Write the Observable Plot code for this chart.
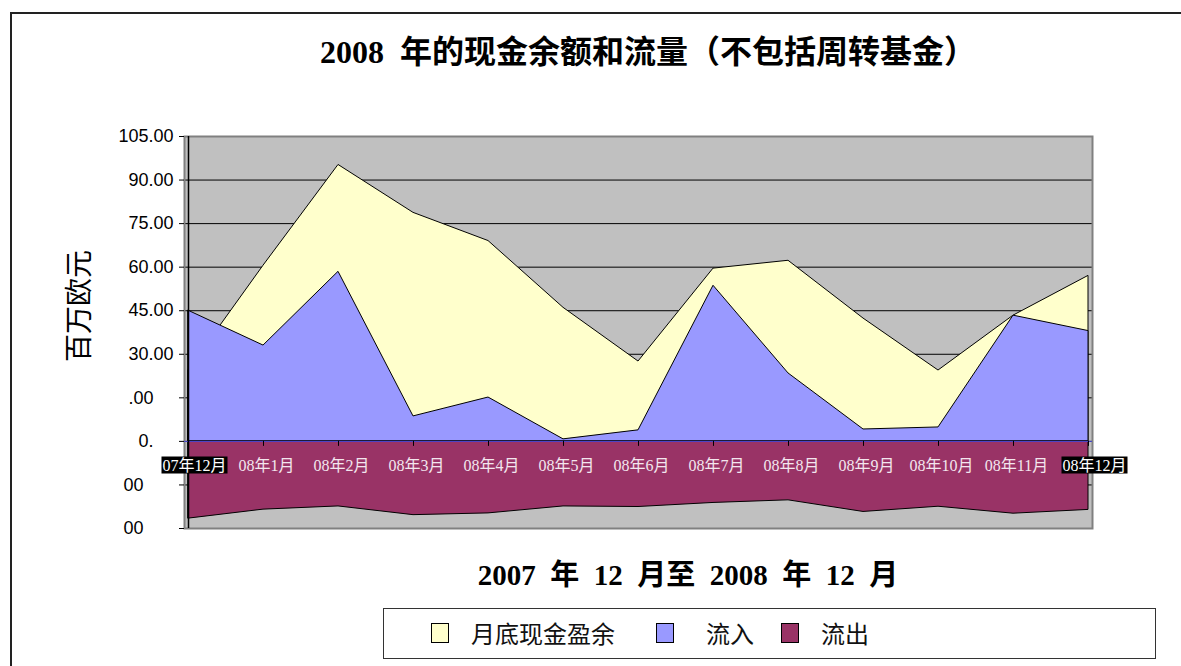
<!DOCTYPE html>
<html>
<head>
<meta charset="utf-8">
<script src="https://cdn.jsdelivr.net/npm/d3@7"></script>
<script src="https://cdn.jsdelivr.net/npm/@observablehq/plot@0.6"></script>
<style>
  html, body { margin: 0; padding: 0; background: #fff; overflow: hidden; }
  #wrap { position: relative; width: 1181px; height: 666px; overflow: hidden; background: #fff; }
  #border { position: absolute; left: 10px; top: 12px; width: 1400px; height: 900px;
            border-left: 2px solid #222; border-top: 2px solid #222; box-sizing: border-box; }
  #chart { position: absolute; left: 0; top: 0; }
  .title { position: absolute; white-space: pre; font-weight: bold; color: #000;
           font-family: "Liberation Serif", "Noto Sans CJK SC", serif; transform: translate(-50%, -50%); }
  #ytitle { position: absolute; left: 80px; top: 306px; white-space: pre; color: #000;
            font-family: "Liberation Serif", "Noto Sans CJK SC", serif; font-size: 28px; line-height: 28px;
            transform: translate(-50%, -50%) rotate(-90deg); }
  #legend { position: absolute; left: 383px; top: 608px; width: 773px; height: 51px;
            border: 1px solid #333; box-sizing: border-box; background: #fff; }
  .sw { position: absolute; top: 14px; width: 18px; height: 20px; border: 1.5px solid #000; box-sizing: border-box; }
  .lt { position: absolute; top: 24px; transform: translateY(-50%); font-size: 24px; line-height: 24px;
        font-family: "Noto Sans CJK SC", serif; color: #111; white-space: pre; }
</style>
</head>
<body>
<div id="wrap">
  <div id="border"></div>
  <div id="chart"></div>
  <div class="title" id="title" style="left:648px;top:52px;font-size:32px;line-height:32px;"></div>
  <div class="title" id="xtitle" style="left:688px;top:575px;font-size:29px;line-height:29px;"></div>
  <div id="ytitle"></div>
  <div id="legend"></div>
</div>
<script>
// ---- data ----
const months = ["07年12月","08年1月","08年2月","08年3月","08年4月","08年5月","08年6月",
                "08年7月","08年8月","08年9月","08年10月","08年11月","08年12月"];
const surplus = [24.5, 60.5, 95.2, 78.7, 69.0, 46.0, 27.5, 59.5, 62.2, 42.3, 24.4, 43.3, 57.0]; // 月底现金盈余
const inflow  = [45.0, 33.0, 58.4, 8.6, 15.1, 0.7, 3.8, 53.6, 23.4, 4.1, 4.8, 43.3, 38.0];      // 流入
const outflow = [-26.6, -23.5, -22.4, -25.4, -24.8, -22.4, -22.6, -21.2, -20.3, -24.3, -22.5, -24.9, -23.6]; // 流出
const yTicks = [105, 90, 75, 60, 45, 30, 15, 0, -15, -30];
const yTickLabels = ["105.00", "90.00", "75.00", "60.00", "45.00", "30.00", ".00", "0.", "00", "00"];
const seriesNames = ["月底现金盈余", "流入", "流出"];
const seriesColors = ["#FFFFCC", "#9999FF", "#993366"];
const titleText = "2008  年的现金余额和流量（不包括周转基金）";
const xTitleText = "2007  年  12  月至  2008  年  12  月";
const yTitleText = "百万欧元";

// ---- table for the marks ----
const rows = months.map((m, i) => ({month: m, surplus: surplus[i], inflow: inflow[i], outflow: outflow[i]}));

// clipped tick labels keep their trailing room (figure spaces)
const clipPad = {15: 2, 0: 2, "-15": 3, "-30": 3};
const fmt = (d) => {
  const i = yTicks.indexOf(d);
  const s = i >= 0 ? yTickLabels[i] : "";
  return s + "\u2007".repeat(clipPad[d] || 0);
};

const serif = "'Liberation Serif', 'Noto Sans CJK SC', serif";

const chart = Plot.plot({
  width: 1181,
  height: 666,
  marginLeft: 184,
  marginRight: 89,
  marginTop: 136,
  marginBottom: 138,
  style: {background: "transparent", overflow: "visible"},
  x: {type: "point", domain: months, padding: 0, axis: null},
  y: {domain: [-30, 105], nice: false, axis: null},
  marks: [
    Plot.frame({fill: "#C0C0C0", stroke: null}),
    Plot.ruleY(yTicks.filter(v => v !== 105 && v !== -30), {stroke: "#000", strokeWidth: 1}),
    Plot.frame({stroke: "#808080", strokeWidth: 2}),
    Plot.area(rows, {x1: "month", y1: 0, y2: "surplus", fill: seriesColors[0], stroke: "#000", strokeWidth: 1}),
    Plot.area(rows, {x1: "month", y1: 0, y2: "inflow", fill: seriesColors[1], stroke: "#000", strokeWidth: 1}),
    Plot.area(rows, {x1: "month", y1: 0, y2: "outflow", fill: seriesColors[2], stroke: "#000", strokeWidth: 1}),
    Plot.ruleY([0], {stroke: "#4b4bd8", strokeWidth: 1}),
    Plot.ruleX(months.slice(1), {x: d => d, y1: 0, y2: 0, insetBottom: -5, stroke: "#000", strokeWidth: 1}),
    Plot.ruleX([months[0]], {x: d => d, stroke: "#000", strokeWidth: 1.5}),
    Plot.axisY({ticks: yTicks, tickFormat: fmt, tickSize: 5, tickPadding: 6, fontSize: 18,
                fontFamily: "'Liberation Sans', Arial, sans-serif", color: "#000", label: null}),
    Plot.text(months.slice(1, -1), {x: d => d, y: 0, dy: 24, dx: 3, text: d => d,
                fill: "#f3e6ee", fontSize: 16, fontFamily: serif}),
    Plot.text([months[0], months[months.length - 1]], {x: d => d, y: 0, dy: 24, dx: 6, text: d => d,
                fill: "#ffffff", fontSize: 16, fontFamily: serif})
  ]
});
document.getElementById("chart").appendChild(chart);

// black boxes behind the first and last category labels
const textGroups = chart.querySelectorAll('g[aria-label="text"]');
const edgeGroup = textGroups[textGroups.length - 1];
if (edgeGroup) {
  edgeGroup.querySelectorAll("text").forEach(t => {
    const b = t.getBBox();
    const r = document.createElementNS("http://www.w3.org/2000/svg", "rect");
    r.setAttribute("x", b.x - 1);
    r.setAttribute("y", b.y);
    r.setAttribute("width", b.width + 2);
    r.setAttribute("height", b.height);
    r.setAttribute("fill", "#000");
    const tr = t.getAttribute("transform");
    if (tr) r.setAttribute("transform", tr);
    t.parentNode.insertBefore(r, t);
  });
}

// titles
document.getElementById("title").textContent = titleText;
document.getElementById("xtitle").textContent = xTitleText;
document.getElementById("ytitle").textContent = yTitleText;

// legend
const legend = document.getElementById("legend");
const swX = [47, 272, 397];
const txX = [87, 322, 437];
seriesNames.forEach((name, i) => {
  const s = document.createElement("div");
  s.className = "sw";
  s.style.left = swX[i] + "px";
  s.style.background = seriesColors[i];
  legend.appendChild(s);
  const t = document.createElement("div");
  t.className = "lt";
  t.style.left = txX[i] + "px";
  t.textContent = name;
  legend.appendChild(t);
});
</script>
</body>
</html>
